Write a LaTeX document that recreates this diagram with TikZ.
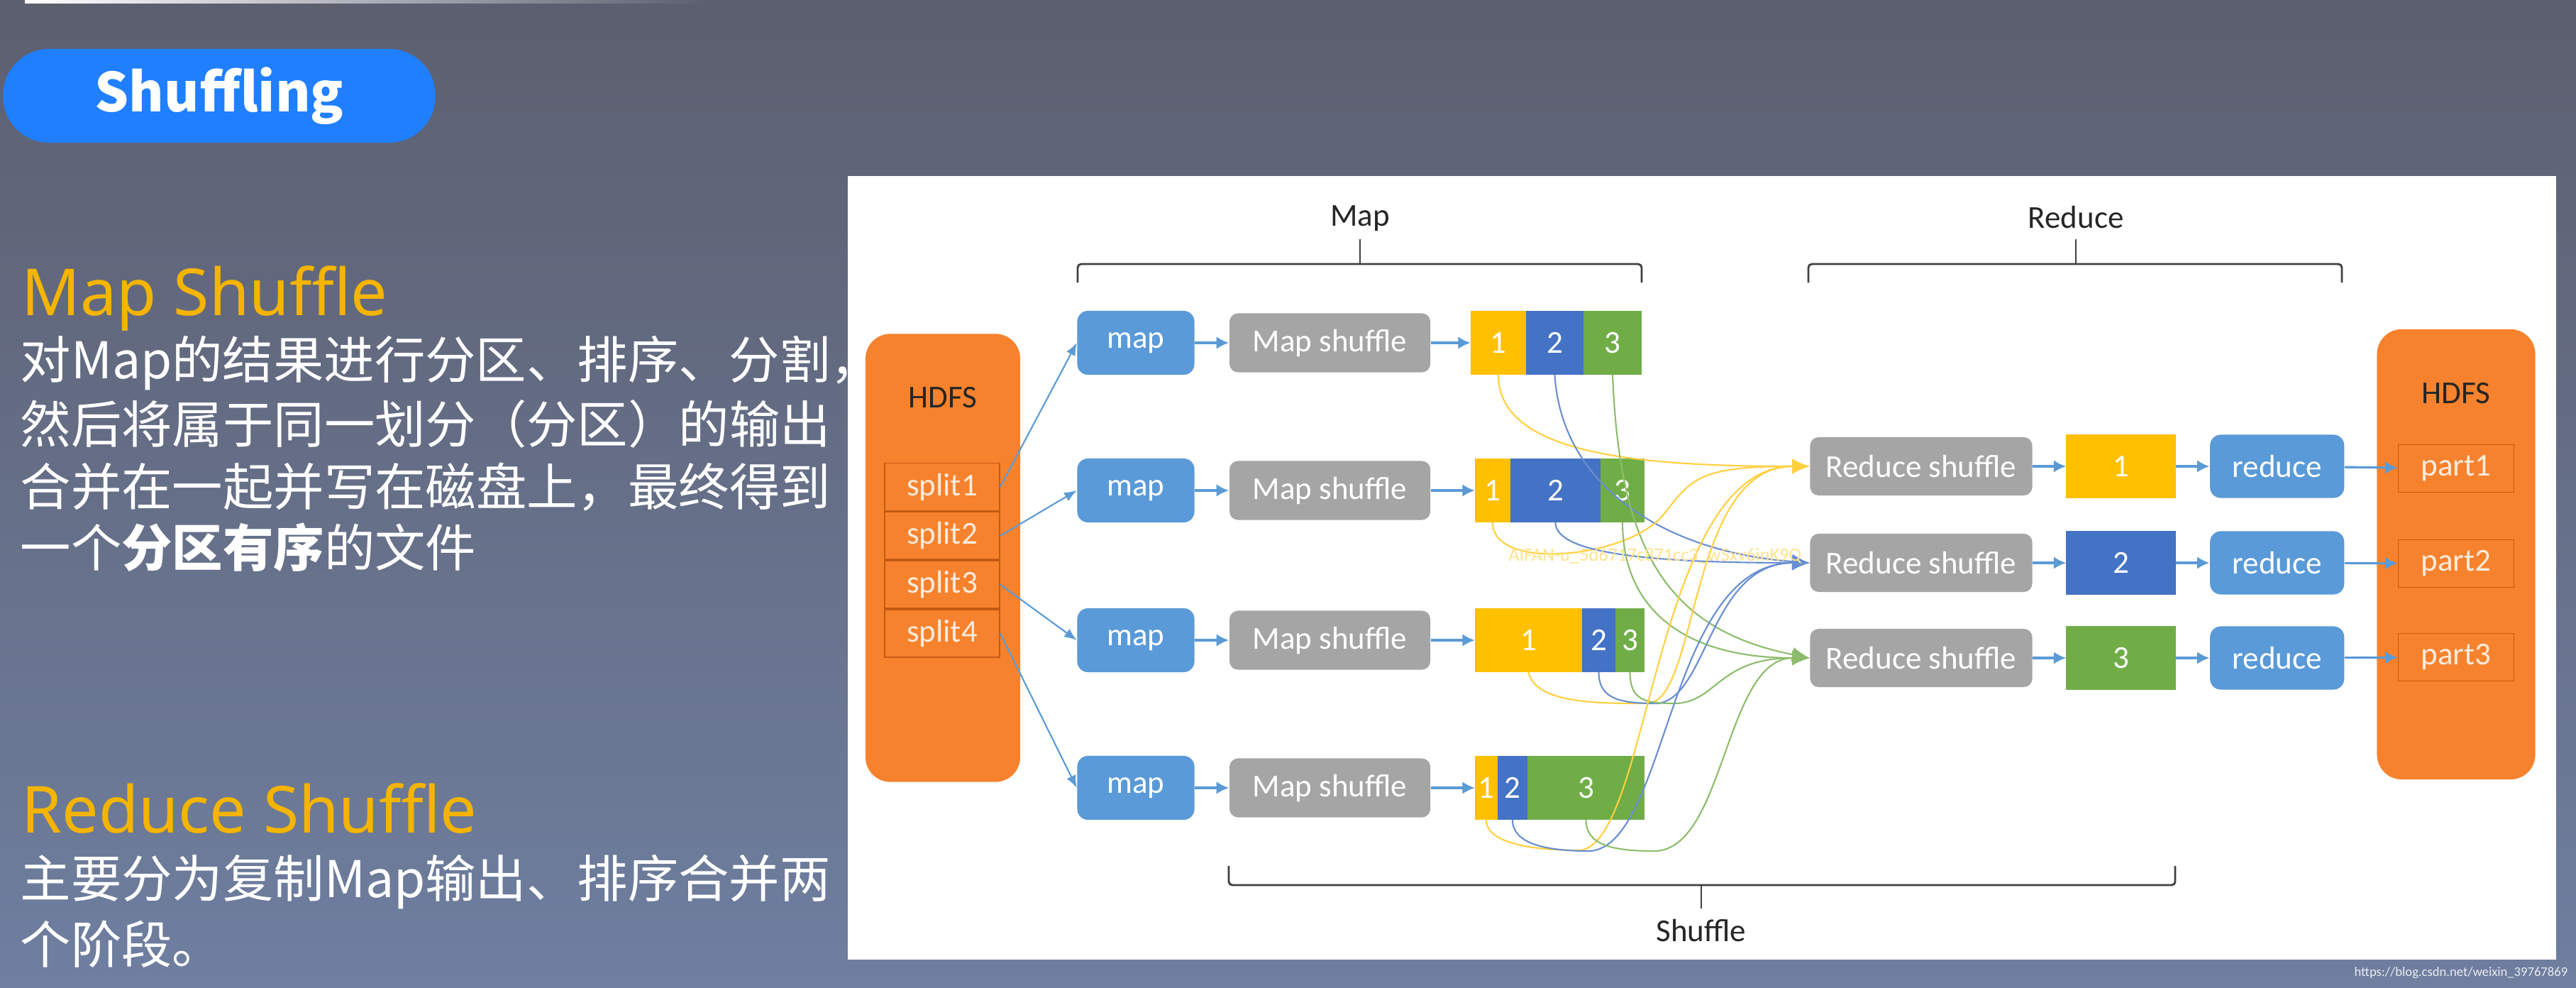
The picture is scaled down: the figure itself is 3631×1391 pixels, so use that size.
\documentclass[tikz,border=0pt]{standalone}
\usepackage{fontspec}
\setmainfont{Carlito}
\newfontfamily\cjk{Noto Sans CJK SC}
\newfontfamily\headfont{Noto Sans}
\usepackage{xcolor}
\usetikzlibrary{positioning,arrows.meta}

\definecolor{bgtop}{HTML}{5C5F6F}
\definecolor{bgbot}{HTML}{6F7FA0}
\definecolor{pillblue}{HTML}{1F7FFF}
\definecolor{headgold}{HTML}{F4B400}
\definecolor{hdfsorange}{HTML}{F7822D}
\definecolor{splitedge}{HTML}{C55A11}
\definecolor{splittext}{HTML}{FDEBDD}
\definecolor{mapblue}{HTML}{5A9AD8}
\definecolor{shufgray}{HTML}{A5A5A5}
\definecolor{pyellow}{HTML}{FFC000}
\definecolor{pblue}{HTML}{4472C4}
\definecolor{pgreen}{HTML}{70AD47}
\definecolor{arrowblue}{HTML}{5B9BD5}
\definecolor{bracegray}{HTML}{404040}
\definecolor{labelblack}{HTML}{262626}

\tikzstyle{pill} = [rectangle, rounded corners=0.65cm, fill=pillblue, minimum width=6.09cm, minimum height=1.32cm, text=white]
\tikzstyle{desc} = [anchor=base west, text=white, inner sep=0pt, font=\cjk\fontsize{20.3}{24}\selectfont]
\tikzstyle{head} = [anchor=base west, text=headgold, inner sep=0pt, font=\headfont\fontsize{26}{30}\selectfont]
\tikzstyle{boxtext} = [font=\fontsize{12.8}{15}\selectfont]
\tikzstyle{hdfs} = [rectangle, rounded corners=0.35cm, fill=hdfsorange, minimum width=2.18cm, minimum height=6.31cm]
\tikzstyle{split} = [rectangle, boxtext, draw=splitedge, line width=0.5pt, fill=hdfsorange, text=splittext, minimum width=1.62cm, minimum height=0.67cm, inner sep=0pt]
\tikzstyle{mapbox} = [rectangle, boxtext, rounded corners=0.15cm, fill=mapblue, text=white, minimum width=1.65cm, minimum height=0.9cm, inner sep=0pt]
\tikzstyle{shufbox} = [rectangle, boxtext, rounded corners=0.12cm, fill=shufgray, text=white, minimum width=2.83cm, minimum height=0.83cm, inner sep=0pt]
\tikzstyle{seg} = [rectangle, boxtext, text=white, minimum height=0.9cm, inner sep=0pt, outer sep=0pt]
\tikzstyle{label} = [boxtext, text=labelblack]
\tikzstyle{arrow} = [line width=0.9pt, arrowblue, -{Latex[length=5pt,width=5pt]}]
\tikzstyle{thinarrow} = [line width=0.6pt, arrowblue, -{Latex[length=5pt,width=4pt]}]
\tikzstyle{brace} = [line width=0.8pt, bracegray, rounded corners=0.05cm]
\tikzstyle{ycurve} = [line width=0.6pt, pyellow!75!white, -{Latex[length=7pt,width=6pt]}]
\tikzstyle{bcurve} = [line width=0.6pt, pblue!80!white, -{Latex[length=7pt,width=6pt]}]
\tikzstyle{gcurve} = [line width=0.6pt, pgreen!80!white, -{Latex[length=7pt,width=6pt]}]

\begin{document}
\begin{tikzpicture}[x=0.01cm, y=-0.01cm]
        \useasboundingbox (0,0) rectangle (3631,1391);
        \shade[top color=bgtop, bottom color=bgbot] (0,0) rectangle (3631,1391);
        \fill[left color=white, right color=bgtop] (35,0) rectangle (1000,5);

        % left side text
        \node[pill] (title) at (309,135) {\cjk\bfseries\fontsize{21.5}{26}\selectfont Shuffling};
        \node[head] (maphead) at (30,444) {Map Shuffle};
        \node[desc] (desc1) at (28,533) {对Map的结果进行分区、排序、分割，};
        \node[desc] (desc2) at (28,624) {然后将属于同一划分（分区）的输出};
        \node[desc] (desc3) at (28,712) {合并在一起并写在磁盘上，最终得到};
        \node[desc] (desc4) at (28,798) {一个\textbf{分区有序}的文件};
        \node[head] (redhead) at (30,1173) {Reduce Shuffle};
        \node[desc] (desc5) at (28,1264) {主要分为复制Map输出、排序合并两};
        \node[desc] (desc6) at (28,1357) {个阶段。};

        % white panel
        \fill[white] (1195,248) rectangle (3603,1352);

        % input HDFS
        \node[hdfs] (hdfsin) at (1329,786) {};
        \node[label] (hdfsinlbl) at (1329,560) {HDFS};
        \node[split] (split1) at (1328,686) {split1};
        \node[split, below=0pt of split1] (split2) {split2};
        \node[split, below=0pt of split2] (split3) {split3};
        \node[split, below=0pt of split3] (split4) {split4};

        % map rows
        \node[mapbox] (map1) at (1601,483) {map};
        \node[shufbox, right=0.48cm of map1] (ms1) {Map shuffle};
        \node[seg, fill=pyellow, minimum width=0.78cm, right=0.56cm of ms1] (p11) {1};
        \node[seg, fill=pblue, minimum width=0.81cm, right=0pt of p11] (p12) {2};
        \node[seg, fill=pgreen, minimum width=0.82cm, right=0pt of p12] (p13) {3};

        \node[mapbox] (map2) at (1601,691) {map};
        \node[shufbox, right=0.48cm of map2] (ms2) {Map shuffle};
        \node[seg, fill=pyellow, minimum width=0.50cm, right=0.62cm of ms2] (p21) {1};
        \node[seg, fill=pblue, minimum width=1.27cm, right=0pt of p21] (p22) {2};
        \node[seg, fill=pgreen, minimum width=0.62cm, right=0pt of p22] (p23) {3};

        \node[mapbox] (map3) at (1601,902) {map};
        \node[shufbox, right=0.48cm of map3] (ms3) {Map shuffle};
        \node[seg, fill=pyellow, minimum width=1.51cm, right=0.62cm of ms3] (p31) {1};
        \node[seg, fill=pblue, minimum width=0.47cm, right=0pt of p31] (p32) {2};
        \node[seg, fill=pgreen, minimum width=0.41cm, right=0pt of p32] (p33) {3};

        \node[mapbox] (map4) at (1601,1110) {map};
        \node[shufbox, right=0.48cm of map4] (ms4) {Map shuffle};
        \node[seg, fill=pyellow, minimum width=0.32cm, right=0.62cm of ms4] (p41) {1};
        \node[seg, fill=pblue, minimum width=0.42cm, right=0pt of p41] (p42) {2};
        \node[seg, fill=pgreen, minimum width=1.65cm, right=0pt of p42] (p43) {3};

        % reduce rows
        \node[shufbox, minimum width=3.13cm, minimum height=0.82cm] (rs1) at (2708,657) {Reduce shuffle};
        \node[seg, fill=pyellow, minimum width=1.55cm, minimum height=0.89cm, right=0.47cm of rs1] (r1) {1};
        \node[mapbox, minimum width=1.89cm, minimum height=0.89cm, right=0.47cm of r1] (red1) {reduce};

        \node[shufbox, minimum width=3.13cm, minimum height=0.82cm] (rs2) at (2708,793) {Reduce shuffle};
        \node[seg, fill=pblue, minimum width=1.55cm, minimum height=0.89cm, right=0.47cm of rs2] (r2) {2};
        \node[mapbox, minimum width=1.89cm, minimum height=0.89cm, right=0.47cm of r2] (red2) {reduce};

        \node[shufbox, minimum width=3.13cm, minimum height=0.82cm] (rs3) at (2708,927) {Reduce shuffle};
        \node[seg, fill=pgreen, minimum width=1.55cm, minimum height=0.89cm, right=0.47cm of rs3] (r3) {3};
        \node[mapbox, minimum width=1.89cm, minimum height=0.89cm, right=0.47cm of r3] (red3) {reduce};

        % output HDFS
        \node[hdfs, minimum width=2.23cm, minimum height=6.34cm] (hdfsout) at (3462,781) {};
        \node[label] (hdfsoutlbl) at (3462,554) {HDFS};
        \node[split, minimum width=1.63cm] (part1) at (3462,660) {part1};
        \node[split, minimum width=1.63cm] (part2) at (3462,794) {part2};
        \node[split, minimum width=1.63cm] (part3) at (3462,926) {part3};

        % braces
        \node[label] (maplbl) at (1917,308) {Map};
        \node[label] (reducelbl) at (2926,306) {Reduce};
        \node[label] (shufflelbl) at (2398,1311) {Shuffle};
        \draw[brace] (1519,398) -- (1519,372) -- (2314,372) -- (2314,398);
        \draw[brace] (1917,372) -- (1917,337);
        \draw[brace] (2549,398) -- (2549,372) -- (3301,372) -- (3301,398);
        \draw[brace] (2926,372) -- (2926,337);
        \draw[brace] (1732,1220) -- (1732,1247) -- (3066,1247) -- (3066,1220);
        \draw[brace] (2398,1247) -- (2398,1280);

        % arrows
        \foreach \i in {1,...,4} {
            \draw[thinarrow] (split\i.east) -- (map\i.west);
            \draw[arrow] (map\i) -- (ms\i);
            \draw[arrow] (ms\i) -- (p\i1);
        }
        \foreach \i in {1,2,3} {
            \draw[arrow] (rs\i) -- (r\i);
            \draw[arrow] (r\i) -- (red\i);
            \draw[arrow] (red\i) -- (part\i);
        }

        % shuffle curves
        \draw[ycurve] (p11.south) .. controls +(0,110) and +(-250,0) .. (rs1.west);
        \draw[bcurve] (p12.south) .. controls +(10,160) and +(-200,-15) .. (rs2.west);
        \draw[gcurve] (p13.south) .. controls +(10,250) and +(-200,-40) .. (rs3.west);

        \draw[ycurve] (p21.south) .. controls +(0,70) and +(-50,60) .. ++(240,-10) .. controls +(40,-50) and +(-160,0) .. (rs1.west);
        \draw[bcurve] (p22.south) .. controls +(0,40) and +(-250,0) .. (rs2.west);
        \draw[gcurve] (p23.south) .. controls +(0,120) and +(-180,0) .. (rs3.west);

        \draw[ycurve] (p31.south) .. controls +(10,45) and +(-70,0) .. ++(170,44) .. controls +(70,-10) and +(-170,0) .. (rs1.west);
        \draw[bcurve] (p32.south) .. controls +(0,40) and +(-50,0) .. ++(84,44) .. controls +(70,-10) and +(-140,0) .. (rs2.west);
        \draw[gcurve] (p33.south) .. controls +(0,40) and +(-40,0) .. ++(62,44) .. controls +(60,0) and +(-130,0) .. (rs3.west);

        \draw[ycurve] (p41.south) .. controls +(0,35) and +(-60,0) .. ++(132,43) .. controls +(100,-10) and +(-220,0) .. (rs1.west);
        \draw[bcurve] (p42.south) .. controls +(0,35) and +(-60,0) .. ++(110,44) .. controls +(110,-10) and +(-200,0) .. (rs2.west);
        \draw[gcurve] (p43.south) .. controls +(0,35) and +(-60,0) .. ++(96,44) .. controls +(100,0) and +(-120,0) .. (rs3.west);

        % watermarks
        \node[font=\fontsize{7.5}{9}\selectfont, text=pyellow!45!white, anchor=east, inner sep=0pt] (wmark) at (2540,783) {AIFAN-u\_5d6717c871cc3\_wSxv6inK9Q};
        \node[font=\fontsize{5.3}{6}\selectfont, text=white!85!bgbot, anchor=east, inner sep=0pt] (url) at (3620,1371) {https://blog.csdn.net/weixin\_39767869};

    \end{tikzpicture}
\end{document}
